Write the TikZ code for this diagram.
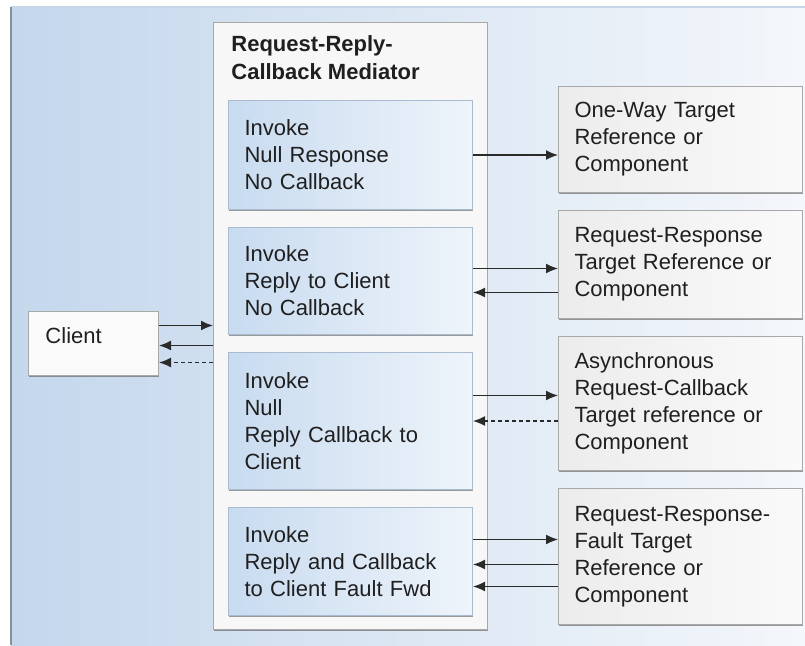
\documentclass[tikz,border=0pt]{standalone}
\usepackage{fontspec}
\setmainfont{Liberation Sans}
\usetikzlibrary{positioning, arrows.meta, shadows}
\definecolor{bgleft}{HTML}{C4D7EC}
\definecolor{bgright}{HTML}{F4F7FB}
\definecolor{frameline}{HTML}{8A9098}
\definecolor{frametop}{HTML}{C6D6E8}
\definecolor{boxline}{HTML}{A8A8A8}
\definecolor{stepline}{HTML}{A9BBD0}
\definecolor{stepleft}{HTML}{C8DBF0}
\definecolor{stepright}{HTML}{EEF4FA}
\definecolor{targetleft}{HTML}{ECECEC}
\definecolor{targetright}{HTML}{FAFAFA}
\definecolor{arrowgray}{HTML}{2A2A2A}

\tikzset{
  box/.style={draw=boxline, line width=0.5pt, anchor=north west, align=left,
    inner xsep=8pt, text width=106pt, text=black!88,
    drop shadow={shadow xshift=0.4pt, shadow yshift=-0.9pt, fill=black!70, opacity=0.55}},
  stepbox/.style={box, left color=stepleft, right color=stepright, draw=stepline},
  targetbox/.style={box, left color=targetleft, right color=targetright},
  arr/.style={-{Latex[length=6pt, width=5pt]}, arrowgray, line width=0.75pt},
}

\begin{document}
\begin{tikzpicture}[x=0.5pt, y=-0.5pt, font=\fontsize{11}{13.5}\selectfont,
    node distance=8.5pt]
  \useasboundingbox (0,0) rectangle (805,645);
  \fill[left color=bgleft, right color=bgright] (11,7) rectangle (805,645);
  \draw[frametop, line width=0.8pt] (11,7) -- (805,7);
  \draw[frameline, line width=0.8pt] (11,645) -- (11,7);

  \node[box, fill=black!3, text width=0pt, inner sep=0pt, minimum width=137pt,
        minimum height=303.5pt] (mediator) at (213,22) {};
  \node[anchor=north west, inner sep=0pt, align=left, text=black!88,
        font=\fontsize{11}{14}\selectfont\bfseries] (medtitle) at (231,35)
    {Request-Reply-\\Callback Mediator};

  \node[stepbox, minimum height=54.5pt] (nullresp) at (228,100)
    {Invoke\\Null Response\\No Callback};
  \node[stepbox, minimum height=53.5pt, below=of nullresp] (replyclient)
    {Invoke\\Reply to Client\\No Callback};
  \node[stepbox, minimum height=68.5pt, below=of replyclient] (callback)
    {Invoke\\Null\\Reply Callback to\\Client};
  \node[stepbox, minimum height=54pt, below=of callback] (faultfwd)
    {Invoke\\Reply and Callback\\to Client Fault Fwd};

  \node[targetbox, minimum height=53pt] (oneway) at (558,86)
    {One-Way Target\\Reference or\\Component};
  \node[targetbox, minimum height=54pt, below=of oneway] (reqresp)
    {Request-Response\\Target Reference or\\Component};
  \node[targetbox, minimum height=67pt, below=of reqresp] (async)
    {Asynchronous\\Request-Callback\\Target reference or\\Component};
  \node[targetbox, minimum height=68pt, below=of async] (reqfault)
    {Request-Response-\\Fault Target\\Reference or\\Component};

  \node[box, fill=black!2, text width=48pt, inner xsep=8.5pt, inner ysep=8pt,
        text height=8pt, text depth=8pt] (client) at (28,311) {Client};

  \draw[arr] ([yshift=9pt]client.east) -- ([yshift=9pt]client.east -| mediator.west);
  \draw[arr] ([yshift=-1pt]client.east -| mediator.west) -- ([yshift=-1pt]client.east);
  \draw[arr, dash pattern=on 2pt off 1.5pt]
    ([yshift=-9.5pt]client.east -| mediator.west) -- ([yshift=-9.5pt]client.east);

  \draw[arr] (nullresp.east) -- (nullresp.east -| oneway.west);
  \draw[arr] ([yshift=6.25pt]replyclient.east) -- ([yshift=6.25pt]replyclient.east -| reqresp.west);
  \draw[arr] ([yshift=-5.75pt]replyclient.east -| reqresp.west) -- ([yshift=-5.75pt]replyclient.east);
  \draw[arr] ([yshift=12.75pt]callback.east) -- ([yshift=12.75pt]callback.east -| async.west);
  \draw[arr, dash pattern=on 2pt off 1.5pt]
    (callback.east -| async.west) -- (callback.east);
  \draw[arr] ([yshift=11pt]faultfwd.east) -- ([yshift=11pt]faultfwd.east -| reqfault.west);
  \draw[arr] ([yshift=-1.5pt]faultfwd.east -| reqfault.west) -- ([yshift=-1.5pt]faultfwd.east);
  \draw[arr] ([yshift=-12.5pt]faultfwd.east -| reqfault.west) -- ([yshift=-12.5pt]faultfwd.east);
\end{tikzpicture}
\end{document}
